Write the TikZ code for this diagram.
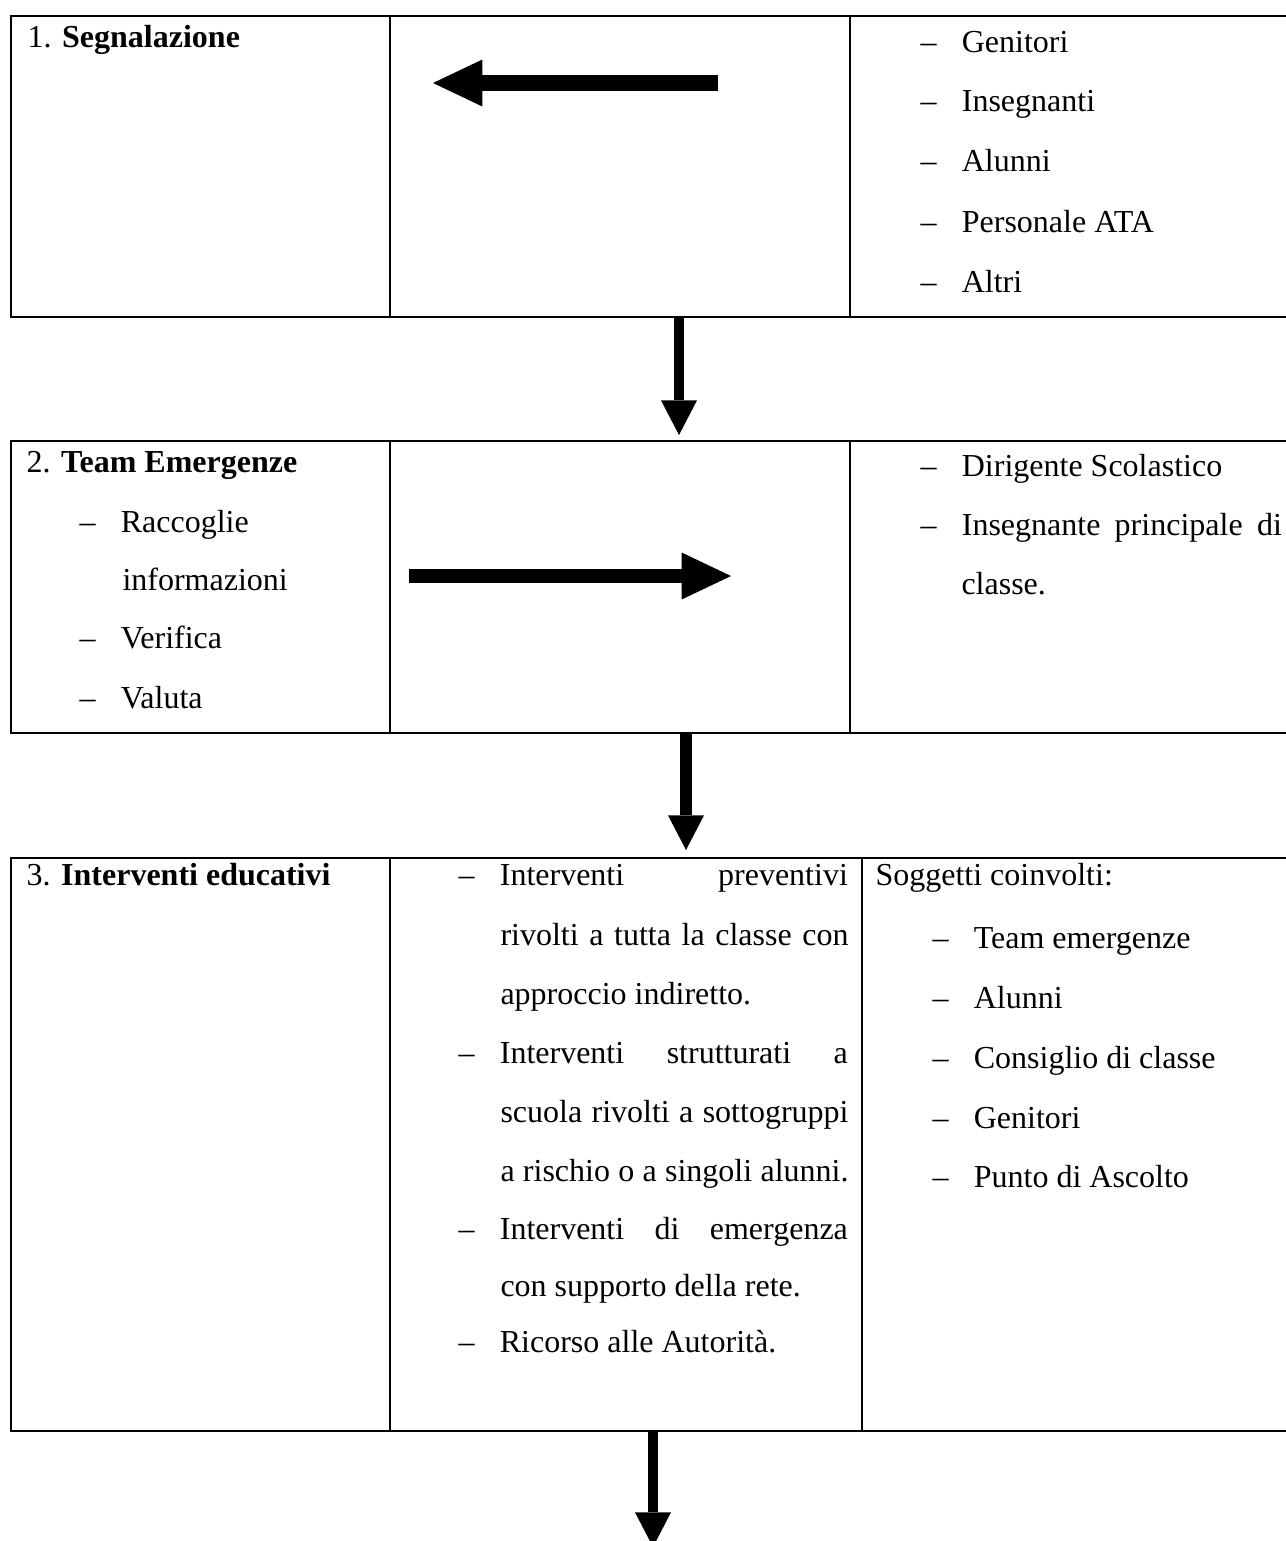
\documentclass[tikz,border=0pt]{standalone}
\usepackage{fontspec}
\setmainfont{Liberation Serif}
\usetikzlibrary{arrows.meta}
\newcommand{\dashitem}[1]{\makebox[15.5pt][l]{\textendash}#1}
\tikzset{
	cellnode/.style={
			draw=black,
			line width=0.6pt,
			anchor=north west,
			inner sep=0pt
		},
	textnode/.style={
			anchor=base west,
			inner sep=0pt,
			font=\fontsize{12pt}{14pt}\selectfont
		},
	downarrow/.style={
			line width=4.1pt,
			-{Triangle[length=13pt, width=13.5pt, line width=0pt]}
		},
	sidearrow/.style={
			line width=6pt,
			-{Triangle[length=18.5pt, width=17.6pt, line width=0pt]}
		}
}
\begin{document}
\begin{tikzpicture}[x=0.375pt, y=-0.375pt]
	\useasboundingbox (0,0) rectangle (1286,1541);
	\clip (0,0) rectangle (1286,1541);

	\node[cellnode, minimum width=142.125pt, minimum height=112.875pt] (segleft) at (10,15) {};
	\node[cellnode, minimum width=172.5pt, minimum height=112.875pt] (segmid) at (389,15) {};
	\node[cellnode, minimum width=180pt, minimum height=112.875pt] (segright) at (849,15) {};

	\node[cellnode, minimum width=142.125pt, minimum height=109.5pt] (teamleft) at (10,440) {};
	\node[cellnode, minimum width=172.5pt, minimum height=109.5pt] (teammid) at (389,440) {};
	\node[cellnode, minimum width=180pt, minimum height=109.5pt] (teamright) at (849,440) {};

	\node[cellnode, minimum width=142.125pt, minimum height=214.875pt] (interleft) at (10,857) {};
	\node[cellnode, minimum width=177pt, minimum height=214.875pt] (intermid) at (389,857) {};
	\node[cellnode, minimum width=180pt, minimum height=214.875pt] (interright) at (861,857) {};

	\node[textnode] (segtitle) at (27,47) {1. \textbf{Segnalazione}};
	\node[textnode] (segwhoa) at (920,52) {\dashitem{Genitori}};
	\node[textnode] (segwhob) at (920,111) {\dashitem{Insegnanti}};
	\node[textnode] (segwhoc) at (920,171) {\dashitem{Alunni}};
	\node[textnode] (segwhod) at (920,232) {\dashitem{Personale ATA}};
	\node[textnode] (segwhoe) at (920,292) {\dashitem{Altri}};

	\node[textnode] (teamtitle) at (26,472) {2. \textbf{Team Emergenze}};
	\node[textnode] (teamtaska) at (79,532) {\dashitem{Raccoglie}};
	\node[textnode] (teamtaskb) at (122,590) {informazioni};
	\node[textnode] (teamtaskc) at (79,648) {\dashitem{Verifica}};
	\node[textnode] (teamtaskd) at (79,708) {\dashitem{Valuta}};
	\node[textnode] (teamwhoa) at (920,476) {\dashitem{Dirigente Scolastico}};
	\node[textnode] (teamwhob) at (920,535) {\dashitem{\makebox[120pt][s]{Insegnante principale di}}};
	\node[textnode] (teamwhoc) at (961,594) {classe.};

	\node[textnode] (intertitle) at (26,885) {3. \textbf{Interventi educativi}};
	\node[textnode] (interacta) at (458,885) {\dashitem{\makebox[130.5pt][s]{Interventi preventivi}}};
	\node[textnode] (interactb) at (500,945) {\makebox[130.5pt][s]{rivolti a tutta la classe con}};
	\node[textnode] (interactc) at (500,1004) {approccio indiretto.};
	\node[textnode] (interactd) at (458,1063) {\dashitem{\makebox[130.5pt][s]{Interventi strutturati a}}};
	\node[textnode] (interacte) at (500,1122) {\makebox[130.5pt][s]{scuola rivolti a sottogruppi}};
	\node[textnode] (interactf) at (500,1181) {\makebox[130.5pt][s]{a rischio o a singoli alunni.}};
	\node[textnode] (interactg) at (458,1239) {\dashitem{\makebox[130.5pt][s]{Interventi di emergenza}}};
	\node[textnode] (interacth) at (500,1296) {con supporto della rete.};
	\node[textnode] (interacti) at (458,1352) {\dashitem{Ricorso alle Autorità.}};
	\node[textnode] (interwho) at (875,885) {Soggetti coinvolti:};
	\node[textnode] (interwhoa) at (932,948) {\dashitem{Team emergenze}};
	\node[textnode] (interwhob) at (932,1008) {\dashitem{Alunni}};
	\node[textnode] (interwhoc) at (932,1068) {\dashitem{Consiglio di classe}};
	\node[textnode] (interwhod) at (932,1128) {\dashitem{Genitori}};
	\node[textnode] (interwhoe) at (932,1187) {\dashitem{Punto di Ascolto}};

	\coordinate (segarrowfrom) at (718,83);
	\coordinate (segarrowto) at (433,83);
	\coordinate (teamarrowfrom) at (409,576);
	\coordinate (teamarrowto) at (731,576);
	\coordinate (segdownfrom) at (679,318);
	\coordinate (segdownto) at (679,435);
	\coordinate (teamdownfrom) at (686,734);
	\coordinate (teamdownto) at (686,850);
	\coordinate (interdownfrom) at (653,1432);
	\coordinate (interdownto) at (653,1547);

	\draw[sidearrow] (segarrowfrom) -- (segarrowto);
	\draw[sidearrow, line width=5.6pt] (teamarrowfrom) -- (teamarrowto);
	\draw[downarrow] (segdownfrom) -- (segdownto);
	\draw[downarrow, line width=4.6pt] (teamdownfrom) -- (teamdownto);
	\draw[downarrow, line width=3.8pt] (interdownfrom) -- (interdownto);
\end{tikzpicture}
\end{document}
